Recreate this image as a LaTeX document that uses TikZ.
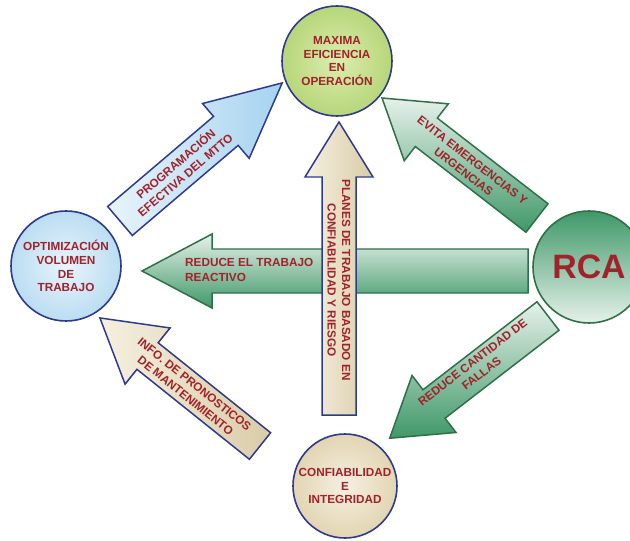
\documentclass[tikz,border=0pt]{standalone}
\usepackage{fontspec}
\setmainfont{Liberation Sans}
\usetikzlibrary{calc}
\definecolor{txtred}{HTML}{A0222A}
\definecolor{navy}{HTML}{2E3A8C}
\definecolor{dkgreen}{HTML}{2F7048}
\definecolor{midgreen}{HTML}{3F9868}
\definecolor{ltgreen}{HTML}{E6F1EA}
\definecolor{ltblue}{HTML}{E8F4FC}
\definecolor{mdblue}{HTML}{A6D3F0}
\definecolor{lttan}{HTML}{F5F0E0}
\definecolor{mdtan}{HTML}{D9CCA8}
\definecolor{cgreenin}{HTML}{DCEDAE}
\definecolor{cgreenout}{HTML}{B7D67A}
\definecolor{cbluein}{HTML}{E8F4FC}
\definecolor{cblueout}{HTML}{BBDDF2}
\definecolor{ctanin}{HTML}{F6F0E2}
\definecolor{ctanout}{HTML}{E2D5B2}
\newcommand\blockarrow[7]{%
  \begin{scope}[shift={#2},rotate=#3]
    \path[#1] (0,-#5) -- ({#4-#7},-#5) -- ({#4-#7},-#6) -- (#4,0) -- ({#4-#7},#6) -- ({#4-#7},#5) -- (0,#5) -- cycle;
  \end{scope}}
\tikzset{
  bluearr/.style={draw=navy, line width=1.5pt, line join=miter, left color=ltblue, right color=mdblue},
  tanarr/.style={draw=navy, line width=1.5pt, line join=miter, left color=lttan, right color=mdtan},
  greenarr/.style={draw=dkgreen, line width=1.5pt, line join=miter, top color=ltgreen, bottom color=midgreen},
  lbl/.style={text=txtred, font=\bfseries\fontsize{11.8}{14.5}\selectfont, align=center, inner sep=0pt},
  circ/.style={circle, draw=navy, line width=1.6pt, inner sep=0pt, text=txtred, align=center,
    font=\bfseries\fontsize{11.8}{13.8}\selectfont}
}
\begin{document}
\begin{tikzpicture}[x=1bp,y=1bp]
\useasboundingbox (0,0) rectangle (630,-541);
\clip (0,0) rectangle (630,-541);
% arrows
\blockarrow{bluearr}{(120,-221)}{40.4}{213}{19}{36}{74}
\blockarrow{greenarr}{(537,-218)}{142.25}{196}{18}{36}{56}
\blockarrow{greenarr}{(548,-316)}{217.67}{200}{18}{36}{56}
\blockarrow{tanarr}{(260,-446)}{141.34}{205}{17}{36}{61}
\blockarrow{greenarr}{(528,-271)}{180}{386}{22}{37}{70}
\node[lbl, anchor=west, align=left] (t3) at (185,-270) {REDUCE EL TRABAJO\\REACTIVO};
\blockarrow{tanarr}{(339,-415)}{90}{293}{17}{34}{55}
% arrow labels
\node[lbl, rotate=40.4] (t1) at (180,-169) {PROGRAMACIÓN\\EFECTIVA DEL MTTO};
\node[lbl, rotate=-37.75] (t2) at (468,-166) {EVITA EMERGENCIAS Y\\URGENCIAS};
\node[lbl, rotate=-90] (t4) at (339,-280) {PLANES DE TRABAJO BASADO EN\\CONFIABILIDAD Y RIESGO};
\node[lbl, rotate=-38.66] (t5) at (190,-390) {INFO. DE PRONOSTICOS\\DE MANTENIMIENTO};
\node[lbl, rotate=37.67] (t6) at (477,-368) {REDUCE CANTIDAD DE\\FALLAS};
% circles
\node[circ, minimum size=110bp, inner color=cgreenin, outer color=cgreenout] (top) at (337,-61) {MAXIMA\\EFICIENCIA\\EN\\OPERACIÓN};
\node[circ, minimum size=110bp, inner color=cbluein, outer color=cblueout] (left) at (66,-266) {OPTIMIZACIÓN\\VOLUMEN\\DE\\TRABAJO};
\node[circ, minimum size=104bp, inner color=ctanin, outer color=ctanout] (bot) at (345,-486) {CONFIABILIDAD\\E\\INTEGRIDAD};
\node[circle, draw=dkgreen, line width=1.6pt, minimum size=112bp, top color=midgreen, bottom color=ltgreen, text=txtred,
  font=\bfseries\fontsize{34}{34}\selectfont] (rca) at (589,-267) {RCA};
\end{tikzpicture}
\end{document}
